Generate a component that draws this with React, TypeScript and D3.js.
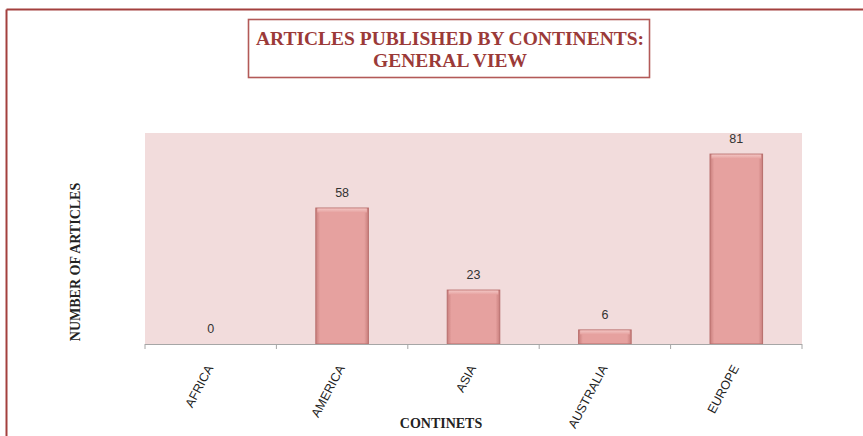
import React from "react";
import * as d3 from "d3";

const categories = ["AFRICA", "AMERICA", "ASIA", "AUSTRALIA", "EUROPE"];
const values = [0, 58, 23, 6, 81];
const titleLines = ["ARTICLES PUBLISHED BY CONTINENTS:", "GENERAL VIEW"];
const yTitle = "NUMBER OF ARTICLES";
const xTitle = "CONTINETS";

const W = 863;
const H = 436;
const plot = { left: 145, right: 802, top: 133, bottom: 344 };

export default function App() {
  const x = d3.scaleBand<string>().domain(categories).range([plot.left, plot.right]).paddingInner(0.6).paddingOuter(0.3);
  const band = d3.scaleBand<string>().domain(categories).range([plot.left, plot.right]);
  const y = d3.scaleLinear().domain([0, 90]).range([plot.bottom, plot.top]);
  const ticks = [plot.left, ...categories.map((c) => (band(c) as number) + band.bandwidth())];
  const red = "#9b3a38";
  const serif = "'Liberation Serif', 'DejaVu Serif', serif";
  const sans = "'Liberation Sans', Arial, sans-serif";
  return (
    <svg width={W} height={H} style={{ position: "absolute", left: 0, top: 0, background: "#fff" }}>
      <defs>
        <linearGradient id="barG" x1="0" x2="1" y1="0" y2="0">
          <stop offset="0" stopColor="#c97f7d" />
          <stop offset="0.08" stopColor="#e6a19f" />
          <stop offset="0.92" stopColor="#e6a19f" />
          <stop offset="1" stopColor="#c97f7d" />
        </linearGradient>
        <linearGradient id="topG" x1="0" x2="0" y1="0" y2="1">
          <stop offset="0" stopColor="#f2c4c2" />
          <stop offset="1" stopColor="#e6a19f" />
        </linearGradient>
      </defs>
      {/* outer border */}
      <line x1={6.5} x2={W} y1={9.5} y2={9.5} stroke="#a3403e" strokeWidth={2} />
      <line x1={6.5} x2={6.5} y1={9.5} y2={H} stroke="#a3403e" strokeWidth={2} />
      {/* title box */}
      <rect x={248.5} y={19.5} width={401} height={58} fill="#fff" stroke="#b35a58" strokeWidth={1.6} />
      {titleLines.map((t, i) => (
        <text key={t} x={450} y={45 + i * 22} textAnchor="middle" fontFamily={serif} fontWeight="bold" fontSize={19.5} fill={red}>
          {t}
        </text>
      ))}
      {/* plot area */}
      <rect x={plot.left} y={plot.top} width={plot.right - plot.left} height={plot.bottom - plot.top} fill="#f2dcdc" />
      {/* bars */}
      {categories.map((c, i) => {
        const v = values[i];
        const bx = x(c) as number;
        const bw = x.bandwidth();
        const by = y(v);
        const h = plot.bottom - by;
        return (
          <g key={c}>
            {h > 0 && (
              <>
                <rect x={bx} y={by} width={bw} height={h} fill="url(#barG)" stroke="#b86e6c" strokeWidth={1} />
                <rect x={bx + 1.5} y={by + 0.5} width={bw - 3} height={Math.min(4, h - 1)} fill="url(#topG)" />
              </>
            )}
            <text x={bx + bw / 2} y={by - 11} textAnchor="middle" fontFamily={sans} fontSize={12.5} fill="#333">
              {v}
            </text>
          </g>
        );
      })}
      {/* axis */}
      <line x1={plot.left} x2={plot.right} y1={plot.bottom + 0.5} y2={plot.bottom + 0.5} stroke="#a6a6a6" />
      {ticks.map((t, i) => (
        <line key={i} x1={t} x2={t} y1={plot.bottom} y2={plot.bottom + 5} stroke="#a6a6a6" />
      ))}
      {categories.map((c) => {
        const cx = (band(c) as number) + band.bandwidth() / 2 + 3;
        return (
          <text key={c} transform={`translate(${cx},${plot.bottom + 24}) rotate(-62)`} textAnchor="end" fontFamily={sans} fontSize={12.5} fill="#222">
            {c}
          </text>
        );
      })}
      <text x={441} y={428} textAnchor="middle" fontFamily={serif} fontWeight="bold" fontSize={14} fill="#222">
        {xTitle}
      </text>
      <text transform={`translate(80,262) rotate(-90)`} textAnchor="middle" fontFamily={serif} fontWeight="bold" fontSize={14} fill="#222">
        {yTitle}
      </text>
    </svg>
  );
}
